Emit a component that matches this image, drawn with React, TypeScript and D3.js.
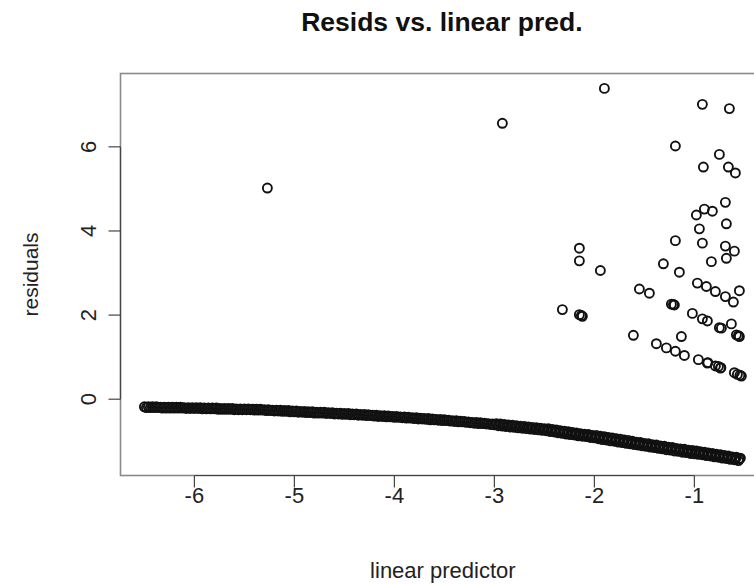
import React, { useEffect, useRef } from "react";
import * as d3 from "d3";

const W = 754;
const H = 585;

const titleText = "Resids vs. linear pred.";
const xLabel = "linear predictor";
const yLabel = "residuals";
const xTicks = [-6, -5, -4, -3, -2, -1];
const yTicks = [0, 2, 4, 6];

// Dense lower band of points (interleaved runs read along the band)
const bandX1 = [
  -6.50, -6.46, -6.42, -6.38, -6.34, -6.30, -6.26, -6.22, -6.18, -6.14, -6.10, -6.06, -6.02,
  -5.98, -5.94, -5.90, -5.86, -5.82, -5.78, -5.74, -5.70, -5.66, -5.62, -5.58, -5.54, -5.50,
  -5.46, -5.42, -5.38, -5.34, -5.30, -5.26, -5.22, -5.18, -5.14, -5.10, -5.06, -5.02,
  -4.98, -4.94, -4.90, -4.86, -4.82, -4.78, -4.74, -4.70, -4.66, -4.62, -4.58, -4.54, -4.50,
  -4.46, -4.42, -4.38, -4.34, -4.30, -4.26, -4.22, -4.18, -4.14, -4.10, -4.06, -4.02,
  -3.98, -3.94, -3.90, -3.86, -3.82, -3.78, -3.74, -3.70, -3.66, -3.62, -3.58, -3.54, -3.50,
  -3.46, -3.42, -3.38, -3.34, -3.30, -3.26, -3.22, -3.18, -3.14, -3.10, -3.06, -3.02,
  -2.98, -2.94, -2.90, -2.86, -2.82, -2.78, -2.74, -2.70, -2.66, -2.62, -2.58, -2.54, -2.50,
  -2.46, -2.42, -2.38, -2.34, -2.30, -2.26, -2.22, -2.18, -2.14, -2.10, -2.06, -2.02,
  -1.98, -1.94, -1.90, -1.86, -1.82, -1.78, -1.74, -1.70, -1.66, -1.62, -1.58, -1.54, -1.50,
  -1.46, -1.42, -1.38, -1.34, -1.30, -1.26, -1.22, -1.18, -1.14, -1.10, -1.06, -1.02,
  -0.98, -0.94, -0.90, -0.86, -0.82, -0.78, -0.74, -0.70, -0.66, -0.62, -0.58, -0.54,
];
const bandY1 = [
  -0.18, -0.18, -0.18, -0.18, -0.19, -0.19, -0.19, -0.19, -0.19, -0.19, -0.20, -0.20, -0.20,
  -0.20, -0.20, -0.21, -0.21, -0.21, -0.21, -0.22, -0.22, -0.22, -0.22, -0.23, -0.23, -0.23,
  -0.23, -0.24, -0.24, -0.24, -0.25, -0.25, -0.26, -0.26, -0.26, -0.27, -0.27, -0.28,
  -0.28, -0.29, -0.29, -0.30, -0.30, -0.31, -0.31, -0.31, -0.32, -0.32, -0.33, -0.33, -0.34,
  -0.34, -0.35, -0.35, -0.36, -0.36, -0.37, -0.38, -0.38, -0.39, -0.39, -0.40, -0.41,
  -0.41, -0.42, -0.42, -0.43, -0.44, -0.44, -0.45, -0.46, -0.46, -0.47, -0.48, -0.48, -0.49,
  -0.50, -0.51, -0.51, -0.52, -0.53, -0.54, -0.55, -0.55, -0.56, -0.57, -0.58, -0.59,
  -0.58, -0.59, -0.60, -0.61, -0.62, -0.63, -0.64, -0.65, -0.66, -0.67, -0.68, -0.69, -0.70,
  -0.70, -0.72, -0.73, -0.75, -0.76, -0.77, -0.79, -0.80, -0.82, -0.83, -0.84, -0.86,
  -0.86, -0.88, -0.89, -0.91, -0.92, -0.94, -0.95, -0.97, -0.98, -1.00, -1.02, -1.03, -1.05,
  -1.06, -1.08, -1.09, -1.11, -1.12, -1.14, -1.15, -1.17, -1.18, -1.19, -1.21, -1.22,
  -1.23, -1.25, -1.26, -1.28, -1.29, -1.31, -1.32, -1.34, -1.35, -1.37, -1.38, -1.40,
];
const bandX2 = [
  -6.48, -6.44, -6.40, -6.36, -6.32, -6.28, -6.24, -6.20, -6.16, -6.12, -6.08, -6.04, -6.00,
  -5.96, -5.92, -5.88, -5.84, -5.80, -5.76, -5.72, -5.68, -5.64, -5.60, -5.56, -5.52,
  -5.48, -5.44, -5.40, -5.36, -5.32, -5.28, -5.24, -5.20, -5.16, -5.12, -5.08, -5.04, -5.00,
  -4.96, -4.92, -4.88, -4.84, -4.80, -4.76, -4.72, -4.68, -4.64, -4.60, -4.56, -4.52,
  -4.48, -4.44, -4.40, -4.36, -4.32, -4.28, -4.24, -4.20, -4.16, -4.12, -4.08, -4.04, -4.00,
  -3.96, -3.92, -3.88, -3.84, -3.80, -3.76, -3.72, -3.68, -3.64, -3.60, -3.56, -3.52,
  -3.48, -3.44, -3.40, -3.36, -3.32, -3.28, -3.24, -3.20, -3.16, -3.12, -3.08, -3.04, -3.00,
  -2.96, -2.92, -2.88, -2.84, -2.80, -2.76, -2.72, -2.68, -2.64, -2.60, -2.56, -2.52,
  -2.48, -2.44, -2.40, -2.36, -2.32, -2.28, -2.24, -2.20, -2.16, -2.12, -2.08, -2.04, -2.00,
  -1.96, -1.92, -1.88, -1.84, -1.80, -1.76, -1.72, -1.68, -1.64, -1.60, -1.56, -1.52,
  -1.48, -1.44, -1.40, -1.36, -1.32, -1.28, -1.24, -1.20, -1.16, -1.12, -1.08, -1.04, -1.00,
  -0.96, -0.92, -0.88, -0.84, -0.80, -0.76, -0.72, -0.68, -0.64, -0.60, -0.56,
];
const bandY2 = [
  -0.20, -0.20, -0.20, -0.20, -0.21, -0.21, -0.21, -0.21, -0.21, -0.21, -0.22, -0.22, -0.22,
  -0.22, -0.23, -0.23, -0.23, -0.23, -0.24, -0.24, -0.24, -0.24, -0.25, -0.25, -0.25,
  -0.25, -0.25, -0.26, -0.26, -0.26, -0.27, -0.27, -0.28, -0.28, -0.29, -0.29, -0.30, -0.30,
  -0.31, -0.31, -0.32, -0.32, -0.33, -0.33, -0.33, -0.34, -0.34, -0.35, -0.35, -0.36,
  -0.36, -0.37, -0.37, -0.38, -0.38, -0.39, -0.39, -0.40, -0.41, -0.41, -0.42, -0.42, -0.43,
  -0.43, -0.44, -0.45, -0.45, -0.46, -0.47, -0.47, -0.48, -0.49, -0.49, -0.50, -0.51,
  -0.51, -0.52, -0.53, -0.54, -0.54, -0.55, -0.56, -0.57, -0.58, -0.58, -0.59, -0.60, -0.61,
  -0.63, -0.64, -0.65, -0.66, -0.67, -0.68, -0.69, -0.70, -0.71, -0.72, -0.73, -0.74,
  -0.75, -0.77, -0.78, -0.80, -0.81, -0.83, -0.84, -0.85, -0.87, -0.88, -0.89, -0.91, -0.92,
  -0.94, -0.96, -0.97, -0.99, -1.00, -1.02, -1.03, -1.05, -1.06, -1.08, -1.09, -1.11,
  -1.12, -1.14, -1.15, -1.17, -1.18, -1.20, -1.21, -1.23, -1.24, -1.26, -1.27, -1.29, -1.30,
  -1.31, -1.32, -1.34, -1.35, -1.37, -1.38, -1.40, -1.41, -1.43, -1.44, -1.46,
];
const bandX3 = [
  -2.51, -2.47, -2.43, -2.39, -2.35, -2.31, -2.27, -2.23, -2.19, -2.15, -2.11, -2.07, -2.03,
  -1.99, -1.95, -1.91, -1.87, -1.83, -1.79, -1.75, -1.71, -1.67, -1.63, -1.59, -1.55, -1.51,
  -1.47, -1.43, -1.39, -1.35, -1.31, -1.27, -1.23, -1.19, -1.15, -1.11, -1.07, -1.03,
  -0.99, -0.95, -0.91, -0.87, -0.83, -0.79, -0.75, -0.71, -0.67, -0.63, -0.59, -0.55,
];
const bandY3 = [
  -0.72, -0.73, -0.74, -0.76, -0.77, -0.78, -0.80, -0.81, -0.83, -0.84, -0.85, -0.87, -0.88,
  -0.89, -0.91, -0.92, -0.94, -0.95, -0.97, -0.98, -1.00, -1.02, -1.03, -1.05, -1.06, -1.08,
  -1.09, -1.11, -1.12, -1.13, -1.15, -1.16, -1.18, -1.19, -1.21, -1.22, -1.23, -1.25,
  -1.26, -1.28, -1.29, -1.31, -1.32, -1.34, -1.35, -1.36, -1.38, -1.39, -1.41, -1.42,
];

// Scattered upper points
const outX = [
  -5.27, -2.92, -1.90, -0.92, -0.65, -1.19, -0.75, -0.91, -0.66, -0.59,
  -0.69, -0.98, -0.90, -0.82, -0.95, -0.68, -1.19, -0.92, -0.69, -0.60,
  -2.15, -2.15, -1.94, -1.31, -1.15, -0.83, -0.68, -1.55, -1.45, -0.97,
  -0.88, -0.79, -0.69, -0.61, -0.55, -2.32, -2.15, -2.12, -1.23, -1.20,
  -1.02, -0.92, -0.87, -0.75, -0.73, -0.63, -0.58, -0.55, -1.61, -1.13,
  -1.38, -1.28, -1.19, -1.10, -0.96, -0.87, -0.79, -0.74, -0.60, -0.57,
  -0.53, -0.865, -0.735, -0.545, -0.76, -2.13, -1.21, -0.56,
];
const outY = [
  5.02, 6.56, 7.39, 7.01, 6.91, 6.02, 5.82, 5.52, 5.52, 5.38,
  4.68, 4.38, 4.52, 4.47, 4.05, 4.17, 3.77, 3.71, 3.64, 3.52,
  3.59, 3.29, 3.06, 3.22, 3.02, 3.27, 3.35, 2.62, 2.52, 2.76,
  2.68, 2.56, 2.44, 2.31, 2.58, 2.13, 2.01, 1.97, 2.26, 2.24,
  2.04, 1.91, 1.86, 1.70, 1.69, 1.79, 1.53, 1.49, 1.52, 1.49,
  1.32, 1.22, 1.14, 1.04, 0.94, 0.86, 0.79, 0.74, 0.63, 0.59,
  0.55, 0.87, 0.75, 0.57, 0.78, 1.99, 2.25, 1.51,
];

const FONT = "'Liberation Sans', Arial, Helvetica, sans-serif";

export default function App() {
  const ref = useRef<SVGSVGElement | null>(null);

  useEffect(() => {
    const svg = d3.select(ref.current);
    svg.selectAll("*").remove();

    const allX = [...bandX1, ...bandX2, ...bandX3, ...outX];
    const allY = [...bandY1, ...bandY2, ...bandY3, ...outY];
    const [xmin, xmax] = d3.extent(allX) as [number, number];
    const [ymin, ymax] = d3.extent(allY) as [number, number];
    const xp = (xmax - xmin) * 0.04;
    const yp = (ymax - ymin) * 0.04;
    const xDom: [number, number] = [xmin - xp, xmax + xp];
    const yDom: [number, number] = [ymin - yp, ymax + yp];

    const left = 120.5;
    const pxPerX = 100;
    const x = d3
      .scaleLinear()
      .domain(xDom)
      .range([left, left + (xDom[1] - xDom[0]) * pxPerX]);
    const y = d3.scaleLinear().domain(yDom).range([475.5, 73.5]);

    const x0 = x(xDom[0]);
    const x1 = x(xDom[1]);
    const y0 = y(yDom[0]);
    const y1 = y(yDom[1]);

    // Plot box
    svg
      .append("rect")
      .attr("x", x0)
      .attr("y", y1)
      .attr("width", x1 - x0)
      .attr("height", y0 - y1)
      .attr("fill", "none")
      .attr("stroke", "#8a8a8a")
      .attr("stroke-width", 1.6);

    // X axis
    const gx = svg.append("g");
    gx.append("line")
      .attr("x1", x(xTicks[0]))
      .attr("x2", x(xTicks[xTicks.length - 1]))
      .attr("y1", y0)
      .attr("y2", y0)
      .attr("stroke", "#444")
      .attr("stroke-width", 1.2);
    xTicks.forEach((t) => {
      gx.append("line")
        .attr("x1", x(t))
        .attr("x2", x(t))
        .attr("y1", y0)
        .attr("y2", y0 + 12)
        .attr("stroke", "#444")
        .attr("stroke-width", 1.2);
      gx.append("text")
        .attr("x", x(t))
        .attr("y", 503)
        .attr("text-anchor", "middle")
        .attr("font-family", FONT)
        .attr("font-size", 22)
        .attr("fill", "#222")
        .text(String(t));
    });

    // Y axis
    const gy = svg.append("g");
    gy.append("line")
      .attr("x1", x0)
      .attr("x2", x0)
      .attr("y1", y(yTicks[0]))
      .attr("y2", y(yTicks[yTicks.length - 1]))
      .attr("stroke", "#444")
      .attr("stroke-width", 1.2);
    yTicks.forEach((t) => {
      gy.append("line")
        .attr("x1", x0 - 12)
        .attr("x2", x0)
        .attr("y1", y(t))
        .attr("y2", y(t))
        .attr("stroke", "#444")
        .attr("stroke-width", 1.2);
      gy.append("text")
        .attr("transform", `translate(96,${y(t)}) rotate(-90)`)
        .attr("text-anchor", "middle")
        .attr("font-family", FONT)
        .attr("font-size", 22)
        .attr("fill", "#222")
        .text(String(t));
    });

    // Labels
    const cx = (x0 + x1) / 2;
    svg
      .append("text")
      .attr("x", cx - 1)
      .attr("y", 31)
      .attr("text-anchor", "middle")
      .attr("font-family", FONT)
      .attr("font-weight", "bold")
      .attr("font-size", 26.5)
      .attr("fill", "#111")
      .text(titleText);
    svg
      .append("text")
      .attr("x", cx)
      .attr("y", 578)
      .attr("text-anchor", "middle")
      .attr("font-family", FONT)
      .attr("font-size", 22)
      .attr("fill", "#222")
      .text(xLabel);
    svg
      .append("text")
      .attr("transform", `translate(38,${(y0 + y1) / 2}) rotate(-90)`)
      .attr("text-anchor", "middle")
      .attr("font-family", FONT)
      .attr("font-size", 21)
      .attr("fill", "#222")
      .text(yLabel);

    // Points
    const pts = svg.append("g");
    const drawPts = (xs: number[], ys: number[]) => {
      xs.forEach((v, i) => {
        pts
          .append("circle")
          .attr("cx", x(v))
          .attr("cy", y(ys[i]))
          .attr("r", 4.5)
          .attr("fill", "none")
          .attr("stroke", "#111")
          .attr("stroke-width", 1.9);
      });
    };
    drawPts(bandX1, bandY1);
    drawPts(bandX2, bandY2);
    drawPts(bandX3, bandY3);
    drawPts(outX, outY);
  }, []);

  return (
    <svg
      ref={ref}
      width={W}
      height={H}
      style={{ position: "absolute", left: 0, top: 0, background: "#fff" }}
    />
  );
}
